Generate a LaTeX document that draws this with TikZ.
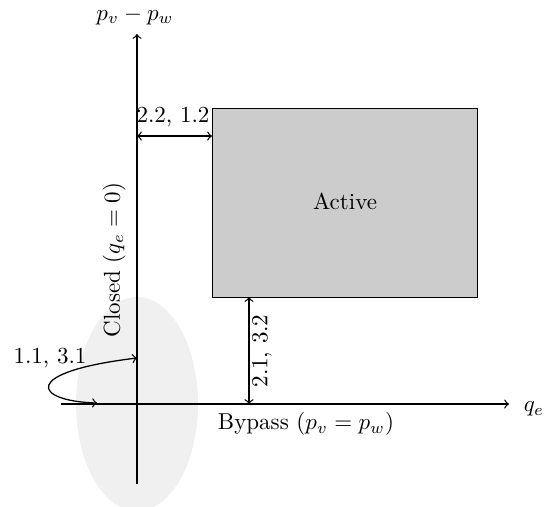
\documentclass[tikz,border=0pt]{standalone}
\begin{document}
\begin{tikzpicture}[x=0.4348pt,y=-0.4348pt,
  line width=0.55pt,
  axis/.style={->},
  dim/.style={<->},
  lbl/.style={inner sep=1pt}]
\useasboundingbox (0,0) rectangle (546,506);
% coordinates
\coordinate (O) at (137,404);
\coordinate (xl) at (61,404);
\coordinate (xr) at (509,404);
\coordinate (yb) at (137,484);
\coordinate (yt) at (137,34);
% set regions
\fill[gray!12] (O) ellipse [x radius=61, y radius=107];
\node[draw, line width=0.45pt, fill=gray!40, minimum width=265*0.4348pt, minimum height=189*0.4348pt, inner sep=0pt, anchor=north west] (act) at (212,108) {};
\node (actlbl) at (345,201) {Active};
% axes
\draw[axis] (xl) -- (xr);
\draw[axis] (yb) -- (yt);
\node[lbl, anchor=west] (qe) at (521,409) {$q_e$};
\node[lbl] (pvpw) at (135,16) {$p_v - p_w$};
% labels of regions
\node[lbl] (byp) at (306,424) {Bypass ($p_v = p_w$)};
\node[lbl, rotate=90] (clo) at (114,260) {Closed ($q_e = 0$)};
% dimension arrows
\coordinate (h1) at (137,136);
\coordinate (h2) at (212,136);
\draw[dim] (h1) -- (h2);
\node[lbl] (l22) at (173,117) {2.2, 1.2};
\coordinate (v1) at (249,297);
\coordinate (v2) at (249,404);
\draw[dim] (v1) -- (v2);
\node[lbl, rotate=90] (l21) at (262,351) {2.1, 3.2};
% loop
\coordinate (c1) at (137,358);
\coordinate (c2) at (97,403);
\draw[<->] (c2) .. controls (33,401) and (20,372) .. (c1);
\node[lbl] (l11) at (50,358) {1.1, 3.1};
\end{tikzpicture}
\end{document}
